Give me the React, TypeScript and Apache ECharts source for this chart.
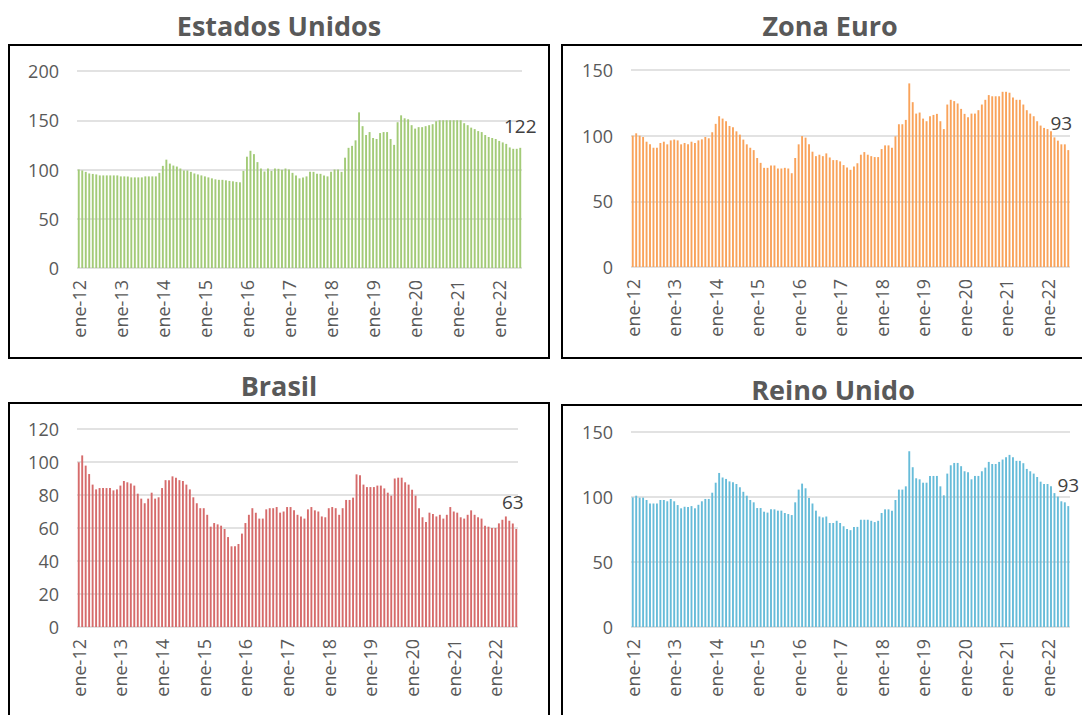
import React, { useEffect, useRef } from "react";
import * as echarts from "echarts";

const monthNames = ["ene", "feb", "mar", "abr", "may", "jun", "jul", "ago", "sep", "oct", "nov", "dic"];
const firstYear = 12;
const monthCount = 127;
const categories: string[] = [];
for (let i = 0; i < monthCount; i++) {
  categories.push(`${monthNames[i % 12]}-${firstYear + Math.floor(i / 12)}`);
}

const usValues = [
  100, 99, 97.6, 96, 95.5, 95, 94, 94, 94, 94, 94, 94,
  93, 93, 93, 92, 92, 92, 92, 93, 93, 93, 93, 96.6,
  103.7, 110, 106, 104, 103, 101, 99, 99, 97.6, 96, 95, 94,
  93, 92, 91, 90, 89.5, 89.5, 89, 88.4, 88, 87.4, 87, 98.6,
  113, 119, 115.6, 107.5, 101, 98, 101, 98.6, 101, 100.7, 99.7, 101,
  100, 96.6, 94, 91, 92, 93, 97.6, 97.6, 95.6, 95.6, 94, 93,
  97.6, 100, 100, 97.6, 112, 122, 124, 129.6, 158, 144, 135, 138,
  132, 131, 137, 138, 138, 131, 125, 148, 155, 152, 151, 145,
  141.5, 143, 143, 144, 145, 146, 149, 150, 150, 150, 150, 150,
  150, 150, 147, 145, 142.5, 141, 139, 138, 135, 133, 132, 131,
  129, 127.5, 126, 122.4, 121, 121, 122,
];

const euroValues = [
  100, 101.8, 100, 99, 95.4, 93.4, 90.8, 90.8, 94.4, 95.4, 93.4, 96.4,
  97, 96.4, 93.4, 94.4, 93.4, 95.4, 94.4, 96.4, 97.2, 99, 98, 102.6,
  109, 114.8, 113, 111, 107.4, 106.4, 103.3, 100.8, 97, 93.4, 90.8, 89,
  83, 79.3, 75.5, 75.5, 77.3, 77.3, 75, 75, 75.5, 75, 71.4, 83,
  93.4, 99.7, 98.5, 93.4, 87.8, 84.4, 85.5, 84.4, 86.5, 83.4, 81.4, 81.4,
  80.4, 77.6, 75.8, 74, 76.5, 79, 85.5, 87.5, 85.5, 84.4, 83.7, 83.7,
  89.8, 92.6, 92.6, 90.8, 99.5, 108.7, 108.7, 112, 139.8, 125.5, 116.8, 117.6,
  113, 111, 114.8, 115.8, 116.6, 111, 105, 123.7, 127.3, 126.3, 124.5, 120.4,
  116.6, 114, 116.8, 116.8, 119.4, 123.7, 127.3, 130.9, 130, 130, 130, 133.4,
  133.4, 132.7, 129, 127.3, 127.3, 123.7, 119.4, 116.8, 114.8, 111, 107.7, 105.9,
  105, 103.3, 98.7, 96.2, 93.4, 93.4, 89,
];

const brasilValues = [
  99.8, 104, 97.8, 92.7, 86.3, 83.4, 84.2, 84.2, 84.2, 84.2, 82.8, 83.4,
  85.7, 88.5, 87.7, 87, 85.7, 80.8, 77.8, 75, 77.8, 81.4, 77.8, 78.6,
  84.2, 89, 89, 91.3, 90.5, 89, 88.5, 86.3, 83.4, 78.6, 75, 72,
  72, 68, 60.8, 63, 62.2, 61.4, 59.4, 54.5, 48.9, 48.9, 50.3, 56.6,
  63, 68, 72, 69.3, 65.7, 65.7, 71.3, 72, 72, 72.7, 69.3, 70,
  72.7, 72.7, 70.7, 68, 67, 65.7, 71.3, 72.7, 70.7, 70, 67, 66.5,
  72, 72.7, 72, 68, 72, 77, 77, 78.4, 92.5, 92, 86.3, 84.8,
  84.8, 84.8, 85.7, 85.7, 84, 81.4, 79.6, 90, 90.5, 90.5, 87.7, 86.3,
  83.2, 79.6, 72, 66.5, 63.6, 69.3, 68.5, 67, 68, 65.7, 68, 72.7,
  70, 69.3, 66.5, 65.7, 68, 70.7, 68, 66.5, 65.7, 61.4, 60.8, 60,
  60, 62.8, 65, 67, 64.4, 62.8, 59.4,
];

const ukValues = [
  99.7, 101, 99.5, 99.5, 97.7, 95, 95, 95, 97.7, 97.7, 96.7, 98.5,
  96.7, 93.8, 91.3, 92.5, 92.3, 93, 91.3, 94, 96.7, 98.5, 98.5, 103.3,
  111, 118.5, 115, 113.9, 112, 111.3, 110, 107.5, 104, 101, 97.7, 95.9,
  91.5, 91.5, 88.7, 88, 90.5, 90.5, 89.5, 89.5, 87.7, 86.9, 86.1, 95.9,
  105.7, 110.3, 106.7, 99.2, 95, 89.5, 85, 84.3, 85, 80, 80, 81.7,
  80, 77.5, 75.3, 74.5, 77, 77, 82.5, 82.5, 82.5, 81.7, 80.7, 81.7,
  87.7, 90.5, 90.5, 89.5, 97.7, 105.7, 105.7, 108.2, 135.2, 122.9, 114.4, 113.6,
  111, 111, 116.2, 116.2, 116.2, 108.2, 101.3, 118, 124.4, 126.2, 126.2, 123.7,
  119.8, 119, 113.6, 116.2, 116.2, 119.8, 122.6, 127, 125.4, 125.4, 127, 128.8,
  130.6, 132.4, 130.6, 127.8, 127.8, 126, 121.6, 119.8, 118, 115.4, 111.8, 110,
  110, 108.2, 103, 100.3, 96.7, 95.9, 93,
];

const panelTitles = ["Estados Unidos", "Zona Euro", "Brasil", "Reino Unido"];
const yMax = [200, 150, 120, 150];
const yStep = [50, 50, 20, 50];
const labelIndex = [126, 124, 125, 126];

const FONT = '"Open Sans", "Liberation Sans", sans-serif';

export default function App() {
  const ref = useRef<HTMLDivElement>(null);

  useEffect(() => {
    document.body.style.margin = "0";
    const chart = echarts.init(ref.current!, null, { renderer: "svg" });

    const allValues = [usValues, euroValues, brasilValues, ukValues];
    const colors = ["#A3CB78", "#F9A35B", "#D66B6B", "#67BCD9"];
    const grids = [
      { left: 77, right: 560, top: 71, bottom: 447 },
      { left: 631, right: 12, top: 70, bottom: 448 },
      { left: 77, right: 564, top: 429, bottom: 88 },
      { left: 631, right: 12, top: 432, bottom: 88 },
    ];
    const titlePos = [
      [279, 25],
      [830, 25],
      [279, 385],
      [833, 389],
    ];
    const frames = [
      { x: 9, y: 45, width: 540, height: 313 },
      { x: 562, y: 45, width: 530, height: 313 },
      { x: 9, y: 403, width: 540, height: 330 },
      { x: 562, y: 405, width: 530, height: 330 },
    ];

    const option: any = {
      animation: false,
      backgroundColor: "#ffffff",
      grid: grids.map((g) => ({ ...g, containLabel: false })),
      xAxis: grids.map((_, k) => ({
        type: "category",
        gridIndex: k,
        data: categories,
        axisLine: { show: false },
        axisTick: { show: false },
        axisLabel: {
          interval: 11,
          rotate: 90,
          fontSize: 18,
          color: "#595959",
          fontFamily: FONT,
          margin: 12,
        },
      })),
      yAxis: grids.map((_, k) => ({
        type: "value",
        gridIndex: k,
        min: 0,
        max: yMax[k],
        interval: yStep[k],
        axisLine: { show: false },
        axisTick: { show: false },
        axisLabel: { fontSize: 18, color: "#595959", fontFamily: FONT, margin: 18 },
        splitLine: { lineStyle: { color: "#D9D9D9", width: 1.5 } },
      })),
      series: allValues.map((vals, k) => ({
        type: "bar",
        xAxisIndex: k,
        yAxisIndex: k,
        barWidth: "55%",
        itemStyle: { color: colors[k] },
        label: {
          show: false,
          position: "top",
          distance: 12,
          fontSize: 19,
          color: "#404040",
          fontFamily: FONT,
          formatter: (p: any) => String(Math.round(p.value)),
        },
        data: vals.map((v, i) =>
          i === labelIndex[k] ? { value: v, label: { show: true } } : v
        ),
      })),
      graphic: [
        ...frames.map((f) => ({
          type: "rect",
          silent: true,
          shape: f,
          style: { fill: "none", stroke: "#000000", lineWidth: 2 },
        })),
        ...panelTitles.map((t, k) => ({
          type: "text",
          x: titlePos[k][0],
          y: titlePos[k][1],
          silent: true,
          style: {
            text: t,
            fill: "#595959",
            fontSize: 27,
            fontWeight: "bold",
            fontFamily: FONT,
            align: "center",
            verticalAlign: "middle",
          },
        })),
      ],
    };

    chart.setOption(option);
    return () => chart.dispose();
  }, []);

  return <div ref={ref} style={{ width: 1082, height: 715 }} />;
}
